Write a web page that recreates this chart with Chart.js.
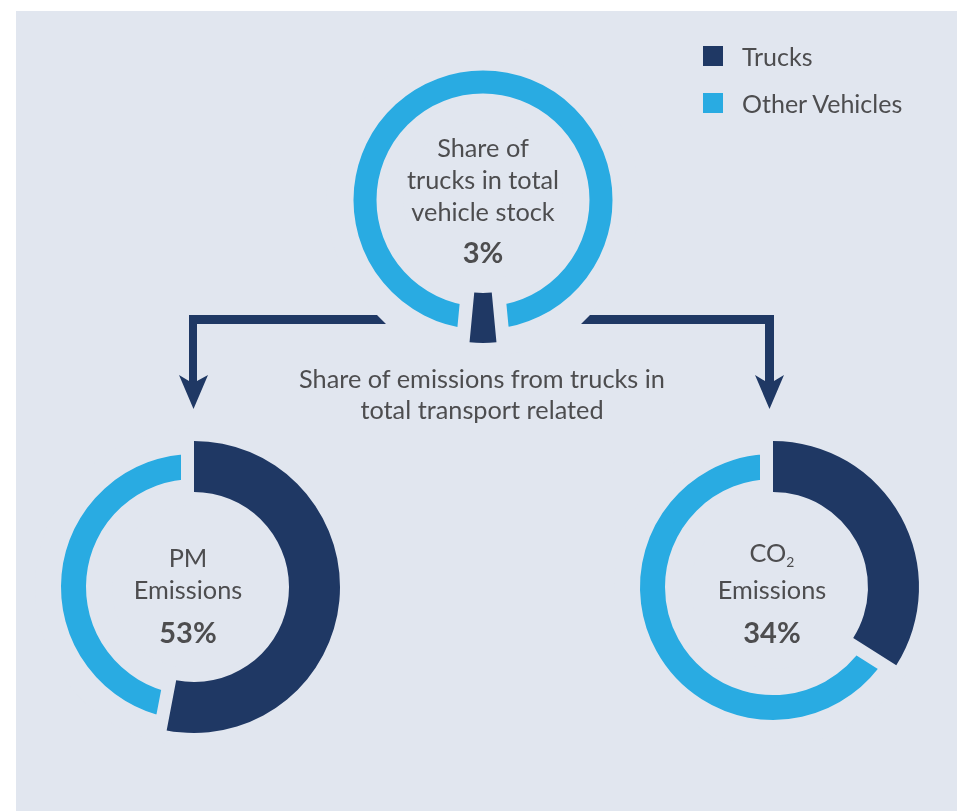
<!DOCTYPE html>
<html>
<head>
<meta charset="utf-8">
<script src="https://cdn.jsdelivr.net/npm/chart.js@4"></script>
<style>
  html, body { margin: 0; padding: 0; background: #ffffff; }
  #stage { position: relative; width: 957px; height: 811px; overflow: hidden; background: #ffffff; font-family: Lato, "Noto Sans", sans-serif; color: #4d4d4f; }
  #panel { position: absolute; left: 16px; top: 11px; right: 0; bottom: 0; background: #e1e6ef; }
  canvas.dn { position: absolute; }
  .t { position: absolute; white-space: nowrap; transform: translate(-50%, -50%); font-size: 25.3px; line-height: 30px; z-index: 5; }
  .b { font-weight: 700; font-size: 29px; }
  #arrows { position: absolute; left: 0; top: 0; z-index: 4; }
  .leg { position: absolute; z-index: 5; font-size: 25px; line-height: 30px; }
  sub { font-size: 0.55em; vertical-align: -0.35em; }
</style>
</head>
<body>
<div id="stage">
  <div id="panel"></div>
  <canvas id="cStock" class="dn" width="340" height="340" style="left:313px;top:30px"></canvas>
  <canvas id="cPM" class="dn" width="340" height="340" style="left:24px;top:417px"></canvas>
  <canvas id="cCO2" class="dn" width="340" height="340" style="left:603px;top:417px"></canvas>
  <svg id="arrows" width="957" height="811">
    <polygon fill="#1f3864" points="386,324 197,324 197,381 208,375 193.5,409 179,375 189,381 189,315 377,315"/>
    <polygon fill="#1f3864" points="581,324 765,324 765,381 755,375 769.5,409 784,375 774,381 774,315 590,315"/>
  </svg>
  <div class="t" style="left:483px;top:147px">Share of</div>
  <div class="t" style="left:483px;top:179px">trucks in total</div>
  <div class="t" style="left:483px;top:211px">vehicle stock</div>
  <div class="t b" id="lStock" style="left:483px;top:252px"></div>
  <div class="t" style="left:482px;top:378px">Share of emissions from trucks in</div>
  <div class="t" style="left:482px;top:409px">total transport related</div>
  <div class="t" style="left:188px;top:557px">PM</div>
  <div class="t" style="left:188px;top:589px">Emissions</div>
  <div class="t b" id="lPM" style="left:188px;top:632px"></div>
  <div class="t" style="left:772px;top:557px">CO<sub>2</sub></div>
  <div class="t" style="left:772px;top:589px">Emissions</div>
  <div class="t b" id="lCO2" style="left:772px;top:632px"></div>
  <div id="legend"></div>
</div>
<script>
// ---- data ----
const categories = ['Trucks', 'Other Vehicles'];
const stockShare = [3, 97];   // Trucks, Other Vehicles (% of vehicle stock)
const pmShare = [53, 47];     // Trucks, Other Vehicles (% of PM emissions)
const co2Share = [34, 66];    // Trucks, Other Vehicles (% of CO2 emissions)

// ---- style ----
const COLORS = ['#1f3864', '#29abe2'];
const PANEL = '#e1e6ef';

document.getElementById('lStock').textContent = stockShare[0] + '%';
document.getElementById('lPM').textContent = pmShare[0] + '%';
document.getElementById('lCO2').textContent = co2Share[0] + '%';

// legend
const legend = document.getElementById('legend');
categories.forEach((c, i) => {
  const sw = document.createElement('span');
  sw.style.cssText = 'position:absolute;left:703px;top:' + (46 + i * 47) + 'px;width:20px;height:20px;background:' + COLORS[i] + ';z-index:5';
  legend.appendChild(sw);
  const tx = document.createElement('div');
  tx.className = 'leg';
  tx.style.left = '742px';
  tx.style.top = (41 + i * 47) + 'px';
  tx.textContent = c;
  legend.appendChild(tx);
});

function makeDonut(id, share, outer, inner, gap, centred) {
  const trucks = share[0], others = share[1];
  const total = trucks + others;
  // draw "others" first so the trucks arc sits on top of the gap stroke
  const rotation = centred
    ? 180 - (others + trucks / 2) / total * 360
    : -others / total * 360;
  const pad = (340 - (2 * outer + gap)) / 2;
  new Chart(document.getElementById(id), {
    type: 'doughnut',
    data: {
      labels: [categories[1], categories[0]],
      datasets: [{
        data: [others, trucks],
        backgroundColor: [COLORS[1], COLORS[0]],
        borderColor: [PANEL, PANEL],
        borderWidth: [gap, 0],
        borderAlign: 'center',
        hoverOffset: 0,
        hoverBorderWidth: [gap, 0]
      }]
    },
    options: {
      responsive: false,
      animation: false,
      events: [],
      rotation: rotation,
      radius: outer,
      cutout: (inner / outer * 100) + '%',
      layout: { padding: pad },
      plugins: { legend: { display: false }, tooltip: { enabled: false } }
    }
  });
}

makeDonut('cStock', stockShare, 143, 93, 27, true);
makeDonut('cPM', pmShare, 146, 95, 26, false);
makeDonut('cCO2', co2Share, 146, 95, 26, false);
</script>
</body>
</html>
